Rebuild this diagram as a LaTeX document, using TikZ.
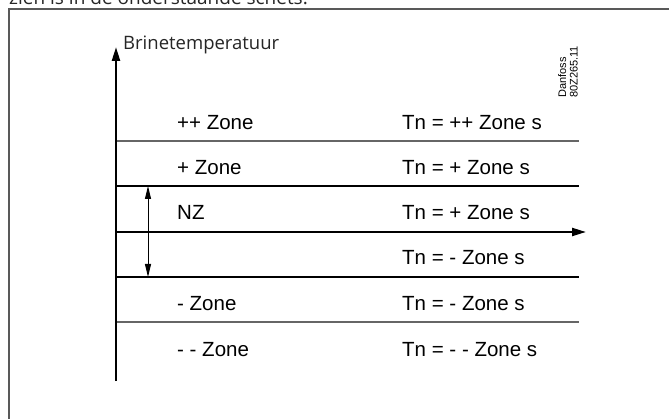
\documentclass[tikz,border=0pt]{standalone}
\usepackage{fontspec}
\setmainfont{Liberation Sans}
\newfontfamily\myriadlike{Open Sans}
\usetikzlibrary{arrows.meta}
\begin{document}
\begin{tikzpicture}[x=1pt,y=-1pt,
  lbl/.style={anchor=base west,inner sep=0pt,font=\fontsize{20.5}{24}\selectfont},
  frameline/.style={draw=black!65,line width=1.5pt},
  axisline/.style={draw=black,line width=2.4pt},
  blackline/.style={draw=black,line width=1.6pt},
  grayline/.style={draw=black!60,line width=1.5pt},
  axistip/.style={-{Triangle[length=14pt,width=8pt]}},
  nzarrow/.style={draw=black,line width=0.9pt,{Triangle[length=13pt,width=6pt]}-{Triangle[length=13pt,width=6pt]}}
]
\useasboundingbox (0,0) rectangle (669,419);
\clip (0,0) rectangle (669,419);
\fill[white] (0,0) rectangle (669,419);
% cut-off intro text
\node[anchor=base west,inner sep=0pt,font=\myriadlike\fontsize{19}{23}\selectfont,text=black!85] (intro) at (9,5) {zien is in de onderstaande schets.};
% frame (only top and left edges visible)
\draw[frameline] (9,440) -- (9,9) -- (690,9);
% coordinates
\coordinate (yb) at (116,381);
\coordinate (yt) at (116,47);
\coordinate (xl) at (116,232);
\coordinate (xr) at (586,232);
\coordinate (l1a) at (116,141); \coordinate (l1b) at (579,141);
\coordinate (l2a) at (116,186); \coordinate (l2b) at (579,186);
\coordinate (l4a) at (116,277); \coordinate (l4b) at (579,277);
\coordinate (l5a) at (116,322); \coordinate (l5b) at (579,322);
\coordinate (nzt) at (148,186);
\coordinate (nzb) at (148,277);
% zone lines
\draw[grayline] (l1a) -- (l1b);
\draw[blackline] (l2a) -- (l2b);
\draw[blackline] (l4a) -- (l4b);
\draw[grayline] (l5a) -- (l5b);
% axes
\draw[axisline,axistip] (yb) -- (yt);
\draw[axisline,axistip,line width=2.2pt] (xl) -- (xr);
% NZ double arrow
\draw[nzarrow] (nzt) -- (nzb);
% axis label
\node[anchor=base west,inner sep=0pt,font=\myriadlike\fontsize{18.5}{22}\selectfont,text=black!85] (ylabel) at (123,50) {Brinetemperatuur};
% zone labels
\node[lbl] (z1) at (177,129.5) {++ Zone};
\node[lbl] (z2) at (177,175) {+ Zone};
\node[lbl] (z3) at (177,220) {NZ};
\node[lbl] (z5) at (177,310.5) {- Zone};
\node[lbl] (z6) at (177,356) {- - Zone};
\node[lbl] (t1) at (402,129.5) {Tn = ++ Zone s};
\node[lbl] (t2) at (402,175) {Tn = + Zone s};
\node[lbl] (t3) at (402,220) {Tn = + Zone s};
\node[lbl] (t4) at (402,265) {Tn = - Zone s};
\node[lbl] (t5) at (402,310.5) {Tn = - Zone s};
\node[lbl] (t6) at (402,356) {Tn = - - Zone s};
% drawing number
\node[rotate=90,anchor=south west,inner sep=0pt,align=left,font=\fontsize{11}{11.5}\selectfont] (dnum) at (578,98) {Danfoss\\80Z265.11};
\end{tikzpicture}
\end{document}
